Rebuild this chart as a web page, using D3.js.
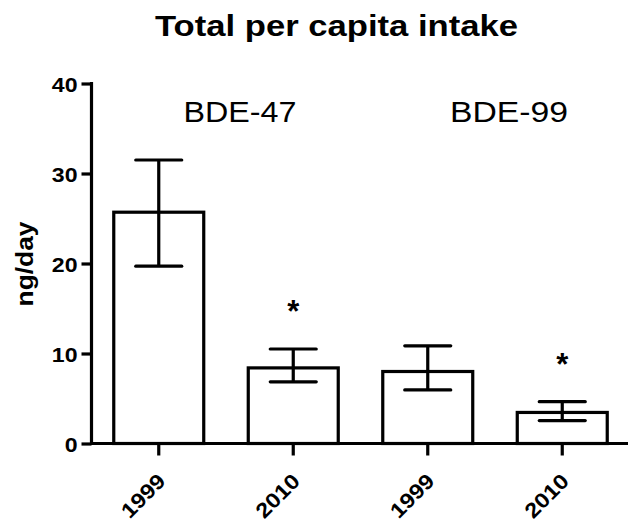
<!DOCTYPE html>
<html><head><meta charset="utf-8">
<script src="https://cdn.jsdelivr.net/npm/d3@7"></script>
<style>body{margin:0;background:#fff}svg{display:block}text{font-family:"Liberation Sans",Arial,sans-serif;fill:#000}</style>
</head><body>
<script>
const categories = ["1999","2010","1999","2010"];
const groups = ["BDE-47","BDE-47","BDE-99","BDE-99"];
const groupLabels = ["BDE-47","BDE-99"];
const means = [25.7, 8.4, 8.0, 3.45];
const errLow = [19.7, 6.85, 5.95, 2.55];
const errHigh = [31.5, 10.5, 10.85, 4.65];
const significant = [false, true, false, true];
const yTicks = [0,10,20,30,40];

const W = 628, H = 523;
const FONT = '"Liberation Sans",Arial,sans-serif';
const svg = d3.select("body").append("svg").attr("width", W).attr("height", H);

const x = d3.scaleBand().domain(d3.range(categories.length)).range([91.5, 629.5]).paddingInner(0.331).paddingOuter(0.1655);
const y = d3.scaleLinear().domain([0,40]).range([443.5, 83.5]);

// title
svg.append("text").attr("x", 336.5).attr("y", 36).attr("text-anchor","middle")
  .attr("textLength",363).attr("lengthAdjust","spacingAndGlyphs")
  .style("font-weight","bold").style("font-size","30px").text("Total per capita intake");

// bars
const g = svg.append("g");
g.selectAll("rect.bar").data(means).join("rect")
  .attr("x", (d,i)=>x(i)).attr("y", d=>y(d))
  .attr("width", x.bandwidth()).attr("height", d=>y(0)-y(d))
  .attr("fill","#fff").attr("stroke","#000").attr("stroke-width",3.2);

// error bars
const capW = 46;
means.forEach((m,i)=>{
  const cx = x(i)+x.bandwidth()/2;
  g.append("line").attr("x1",cx).attr("x2",cx).attr("y1",y(errLow[i])).attr("y2",y(errHigh[i]))
    .attr("stroke","#000").attr("stroke-width",3.2);
  [errLow[i], errHigh[i]].forEach(v=>{
    g.append("line").attr("x1",cx-capW/2).attr("x2",cx+capW/2).attr("y1",y(v)).attr("y2",y(v))
      .attr("stroke","#000").attr("stroke-width",3.2).attr("stroke-linecap","round");
  });
  if (significant[i]) {
    g.append("text").attr("x",cx).attr("y",y(errHigh[i])-27).attr("text-anchor","middle")
      .style("font-weight","bold").style("font-size","31px").text("*");
  }
});

// group labels
const groupWidths = {"BDE-47":113, "BDE-99":118};
groupLabels.forEach(lbl=>{
  const idx = groups.map((gg,i)=>gg===lbl?i:-1).filter(i=>i>=0);
  const mid = d3.mean(idx, i=>x(i)+x.bandwidth()/2);
  svg.append("text").attr("x", mid+14).attr("y",122).attr("text-anchor","middle")
    .attr("textLength",groupWidths[lbl]).attr("lengthAdjust","spacingAndGlyphs")
    .style("font-size","29.5px").text(lbl);
});

// y axis
const yAxis = svg.append("g").attr("transform","translate(91.5,0)")
  .call(d3.axisLeft(y).tickValues(yTicks).tickSize(10).tickSizeOuter(0).tickPadding(3));
yAxis.select(".domain").attr("stroke-width",3.2).attr("d","M0,"+(y(40)-1.5)+"V"+y(0));
yAxis.selectAll(".tick line").attr("stroke-width",3.2);
yAxis.selectAll(".tick text").style("font-weight","bold").style("font-size","21px")
  .style("font-family",FONT).attr("x",null).attr("dy","0.36em")
  .attr("transform","translate(-14,0) scale(1.1,1)");

// x axis
const xAxis = svg.append("g").attr("transform","translate(0,"+y(0)+")")
  .call(d3.axisBottom(x).tickSize(12).tickSizeOuter(0).tickFormat(i=>categories[i]));
xAxis.select(".domain").attr("stroke-width",3.2).attr("d","M90,0H628");
xAxis.selectAll(".tick line").attr("stroke-width",3.2);
xAxis.selectAll(".tick text").style("font-weight","bold").style("font-size","21px")
  .style("font-family",FONT)
  .attr("text-anchor","end").attr("dy",0).attr("y",0)
  .attr("transform","translate(8,39) rotate(-45) scale(1.12,1)");

// y label
svg.append("text").attr("transform","translate(33,264) rotate(-90)").attr("text-anchor","middle")
  .attr("textLength",85).attr("lengthAdjust","spacingAndGlyphs")
  .style("font-weight","bold").style("font-size","24px").text("ng/day");
</script>
</body></html>
